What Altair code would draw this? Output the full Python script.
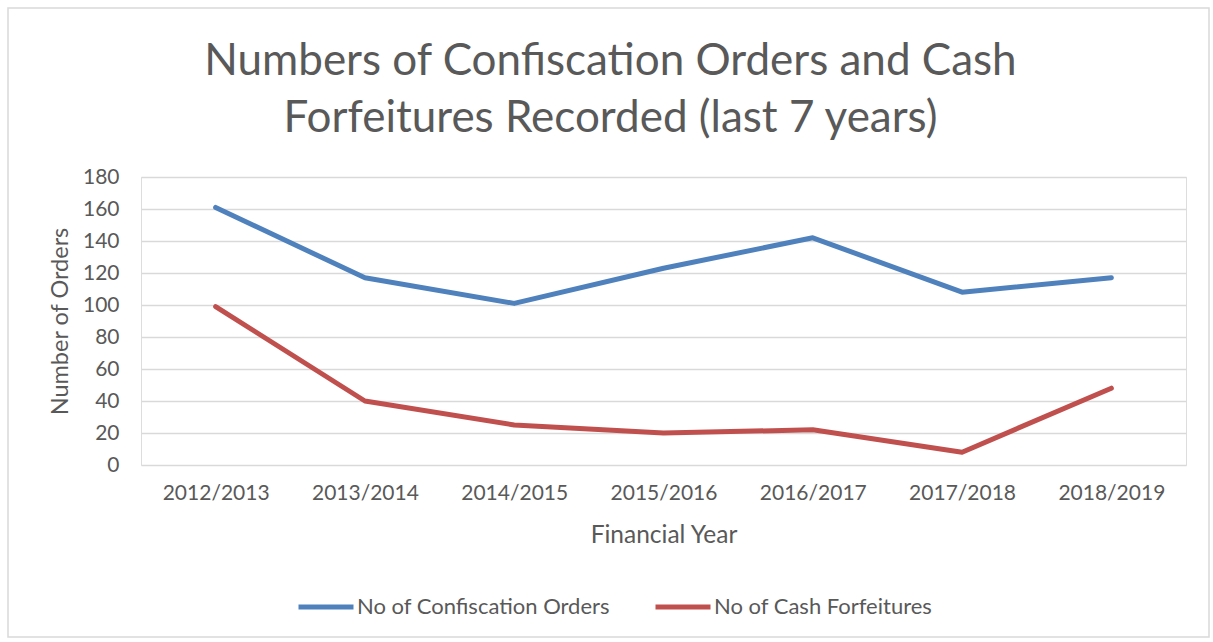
import altair as alt
import pandas as pd

years = ["2012/2013", "2013/2014", "2014/2015", "2015/2016", "2016/2017", "2017/2018", "2018/2019"]
confiscation_orders = [161, 117, 101, 123, 142, 108, 117]
cash_forfeitures = [99, 40, 25, 20, 22, 8, 48]
series_names = ["No of Confiscation Orders", "No of Cash Forfeitures"]
series_colors = ["#4F81BD", "#C0504D"]
y_ticks = [0, 20, 40, 60, 80, 100, 120, 140, 160, 180]

rows = []
for name, vals in zip(series_names, [confiscation_orders, cash_forfeitures]):
    for y, v in zip(years, vals):
        rows.append({"Year": y, "Value": v, "Series": name})
df = pd.DataFrame(rows)

FONT = "Lato"
TXT = "#595959"

lines = alt.Chart(df).mark_line(strokeWidth=5, strokeCap="round", strokeJoin="round").encode(
    x=alt.X("Year:N", sort=years, scale=alt.Scale(type="point", padding=0.5),
            axis=alt.Axis(title="Financial Year", labelAngle=0, labelFontSize=21, labelColor=TXT,
                          labelFont=FONT, labelPadding=17, domain=False, ticks=False,
                          titleFont=FONT, titleFontSize=24.5, titleColor=TXT, titleFontWeight="normal",
                          titleY=70, titleBaseline="middle")),
    y=alt.Y("Value:Q", scale=alt.Scale(domain=[0, 180], nice=False),
            axis=alt.Axis(title="Number of Orders", values=y_ticks, labelFontSize=21, labelColor=TXT,
                          labelFont=FONT, labelPadding=22, domain=False, ticks=False,
                          gridColor="#D9D9D9", gridWidth=1.5,
                          titleFont=FONT, titleFontSize=23.5, titleColor=TXT, titleFontWeight="normal",
                          titleX=-81, titleBaseline="middle", titleAngle=-90)),
    color=alt.Color("Series:N", scale=alt.Scale(domain=series_names, range=series_colors),
                    legend=alt.Legend(title=None, orient="none", legendX=155, legendY=400,
                                      direction="horizontal", symbolType="stroke",
                                      symbolSize=3025, symbolStrokeWidth=5, labelLimit=0,
                                      labelFont=FONT, labelFontSize=22, labelColor=TXT,
                                      labelOffset=1, columnPadding=35)),
)

frame = alt.Chart(pd.DataFrame({"a": [0]})).mark_rect(fill=None, stroke="#D9D9D9", strokeWidth=1.5).encode(
    x=alt.value(8 - 141), x2=alt.value(1209 - 141), y=alt.value(8 - 177), y2=alt.value(637 - 177)
)

chart = alt.layer(frame, lines).properties(
    width=1045, height=288,
    padding={"left": 141, "top": 177, "right": 27, "bottom": 177},
    autosize=alt.AutoSizeParams(type="none"),
    title=alt.TitleParams(text=["Numbers of Confiscation Orders and Cash", "Forfeitures Recorded (last 7 years)"],
                          font=FONT, fontSize=44, fontWeight="normal", color=TXT, anchor="middle",
                          dx=-53, dy=154, lineHeight=57, offset=20),
).configure_view(stroke=None).configure(background="white")

chart.save("out.html", embed_options={"renderer": "svg", "actions": False})
